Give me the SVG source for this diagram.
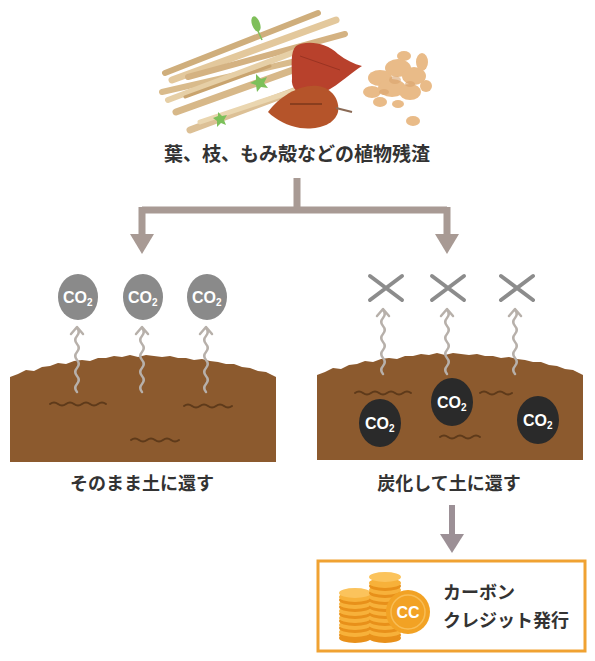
<svg xmlns="http://www.w3.org/2000/svg" width="595" height="661" viewBox="0 0 595 661">
  <style>
    .label { font-family: "Noto Sans CJK JP", "Noto Sans", sans-serif; font-weight: 700; fill: #333333; }
    .co2 { font-family: "Liberation Sans", Arial, sans-serif; font-weight: 700; fill: #ffffff; font-size: 16px; }
    .flow { fill: none; stroke: #a89a94; stroke-width: 7; }
    .wisp { fill: none; stroke: #b7b0aa; stroke-width: 2.5; stroke-linecap: round; stroke-linejoin: round; }
    .worm { fill: none; stroke: #5e3a1a; stroke-width: 2; stroke-linecap: round; }
    .cross { stroke: #8c8c8c; stroke-width: 4; stroke-linecap: round; }
    .stick { stroke-linecap: round; }
  </style>
  <defs>
    <!-- bumpy mound of soil, left edge at x=0 -->
    <path id="soil" fill="#8c5a2e" d="M0,105 L0,20 L8,17 L16,13 L24,14 L32,10 L40,9 L48,6 L56,7 L64,4 L72,3 L80,4 L88,1 L96,1 L104,-1 L112,0 L120,-2 L128,0 L136,-2 L144,-1 L152,0 L160,-1 L168,1 L176,1 L184,3 L192,2 L200,4 L208,5 L216,7 L224,7 L232,10 L240,11 L248,14 L256,15 L262,18 L266,20 L266,105 Z"/>
    <!-- rising gas wisp, tip at origin -->
    <path id="wisp" class="wisp" d="M-6,9 L0,2 L6,9 M0,3 q3.5,4 0,8 q-3.5,4 0,8 q3.5,4 0,8 q-3.5,4 0,8 q3.5,4 0,8 q-3.5,4 0,8 q3.5,4 0,8 q-3.5,4 0,8"/>
    <g id="co2text">
      <text class="co2" x="-15" y="6" text-anchor="start">CO<tspan font-size="10" dy="3">2</tspan></text>
    </g>
    <path id="cross" class="cross" d="M-16,-12 L16,12 M-16,12 L16,-12"/>
    <!-- one stacked coin -->
    <g id="coin">
      <ellipse cx="0" cy="3" rx="16" ry="5" fill="#e8901a"/>
      <ellipse cx="0" cy="0" rx="16" ry="5" fill="#f7b13a"/>
    </g>
  </defs>

  <rect width="595" height="661" fill="#ffffff"/>

  <!-- plant residue: twigs, leaves, husks -->
  <g id="residue">
    <g class="stick">
      <line x1="162" y1="92" x2="292" y2="62" stroke="#d9bb8c" stroke-width="6"/>
      <line x1="165" y1="73" x2="318" y2="13" stroke="#cfae7c" stroke-width="6"/>
      <line x1="172" y1="80" x2="336" y2="20" stroke="#e3c89c" stroke-width="7"/>
      <line x1="188" y1="77" x2="345" y2="34" stroke="#d4b282" stroke-width="6"/>
      <line x1="168" y1="100" x2="300" y2="50" stroke="#e6cfa6" stroke-width="6"/>
      <line x1="176" y1="112" x2="332" y2="56" stroke="#d7b889" stroke-width="7"/>
      <line x1="190" y1="130" x2="345" y2="72" stroke="#dcc096" stroke-width="7"/>
      <line x1="200" y1="122" x2="320" y2="82" stroke="#ead6b0" stroke-width="5"/>
      <line x1="185" y1="97" x2="270" y2="66" stroke="#c9a46f" stroke-width="3"/>
    </g>
    <ellipse cx="256" cy="24" rx="4" ry="8" fill="#7fbf5a" transform="rotate(-20 256 24)"/>
    <line x1="258" y1="31" x2="262" y2="40" stroke="#7fbf5a" stroke-width="1.5"/>
    <path d="M256,74 l5,5 l6,-2 l-3,6 l4,5 l-7,-1 l-4,5 l-1,-7 l-6,-2 l6,-3 Z" fill="#7cc05a"/>
    <path d="M218,112 l4,4 l5,-1 l-3,5 l2,5 l-5,-2 l-4,4 l0,-6 l-4,-3 l5,-2 Z" fill="#7cc05a"/>
    <!-- leaves -->
    <path d="M296,46 C306,40 326,42 338,54 C346,60 354,64 362,66 C352,72 340,84 325,92 C305,100 290,92 292,78 C292,66 290,52 296,46 Z" fill="#b8412c"/>
    <path d="M300,56 L340,70" stroke="#9a3322" stroke-width="1"/>
    <path d="M268,112 C280,96 300,84 318,86 C332,88 340,100 338,112 C334,126 316,130 300,128 C288,126 276,120 268,112 Z" fill="#b5542a"/>
    <path d="M290,104 L322,104" stroke="#6e2f17" stroke-width="1.2"/>
    <path d="M336,108 L352,112" stroke="#8a6a55" stroke-width="2"/>
    <!-- husks -->
    <g fill="#e9bb88">
      <ellipse cx="380" cy="78" rx="12" ry="8"/>
      <ellipse cx="398" cy="68" rx="13" ry="9"/>
      <ellipse cx="414" cy="76" rx="12" ry="9"/>
      <ellipse cx="392" cy="88" rx="14" ry="9"/>
      <ellipse cx="410" cy="92" rx="11" ry="8"/>
      <ellipse cx="372" cy="92" rx="9" ry="6"/>
      <ellipse cx="422" cy="62" rx="6" ry="9"/>
      <ellipse cx="404" cy="56" rx="7" ry="5"/>
      <ellipse cx="426" cy="86" rx="6" ry="6"/>
      <ellipse cx="380" cy="102" rx="7" ry="5"/>
      <ellipse cx="398" cy="104" rx="6" ry="4"/>
      <ellipse cx="413" cy="121" rx="7" ry="5"/>
    </g>
    <g fill="#dba56e" opacity="0.6">
      <ellipse cx="395" cy="80" rx="6" ry="4"/>
      <ellipse cx="410" cy="84" rx="5" ry="3"/>
      <ellipse cx="384" cy="92" rx="5" ry="3"/>
    </g>
    <text class="label" x="297" y="161" font-size="19" text-anchor="middle">葉、枝、もみ殻などの植物残渣</text>
  </g>

  <!-- connectors -->
  <g id="connectors">
    <path class="flow" d="M297,178 L297,210 M142,210 L447,210 M142,207 L142,238 M447,207 L447,238"/>
    <path d="M130,234 L154,234 L142,254 Z" fill="#a89a94"/>
    <path d="M435,234 L459,234 L447,254 Z" fill="#a89a94"/>
    <path d="M452,505 L452,538" fill="none" stroke="#9c9096" stroke-width="6"/>
    <path d="M440,534 L464,534 L452,553 Z" fill="#9c9096"/>
  </g>

  <!-- returned as is -->
  <g id="left-soil">
    <use href="#soil" x="10" y="357"/>
    <path class="worm" d="M50,404 q4,-3 8,0 t8,0 t8,0 t8,0 t8,0 t8,0 t8,0"/>
    <path class="worm" d="M184,406 q4,-3 8,0 t8,0 t8,0 t8,0 t8,0 t8,0"/>
    <path class="worm" d="M131,440 q4,-3 8,0 t8,0 t8,0 t8,0 t8,0 t8,0"/>
    <use href="#wisp" x="77" y="325"/>
    <use href="#wisp" x="142" y="325"/>
    <use href="#wisp" x="206" y="325"/>
    <ellipse cx="78" cy="297" rx="20" ry="23" fill="#8a8a8a"/>
    <ellipse cx="143" cy="297" rx="20" ry="23" fill="#8a8a8a"/>
    <ellipse cx="207" cy="297" rx="20" ry="23" fill="#8a8a8a"/>
    <use href="#co2text" x="78" y="297"/>
    <use href="#co2text" x="143" y="297"/>
    <use href="#co2text" x="207" y="297"/>
    <text class="label" x="142" y="490" font-size="18" text-anchor="middle">そのまま土に還す</text>
  </g>

  <!-- returned as biochar -->
  <g id="right-soil">
    <use href="#soil" x="317" y="355"/>
    <path class="worm" d="M355,393 q4,-3 8,0 t8,0 t8,0 t8,0 t8,0 t8,0 t8,0"/>
    <path class="worm" d="M480,393 q4,-3 8,0 t8,0 t8,0 t8,0"/>
    <path class="worm" d="M440,437 q4,-3 8,0 t8,0 t8,0 t8,0 t8,0"/>
    <use href="#wisp" x="383" y="307"/>
    <use href="#wisp" x="447" y="307"/>
    <use href="#wisp" x="515" y="307"/>
    <use href="#cross" x="386" y="288"/>
    <use href="#cross" x="448" y="288"/>
    <use href="#cross" x="517" y="288"/>
    <ellipse cx="380" cy="423" rx="21" ry="24" fill="#2a2a2a"/>
    <ellipse cx="452" cy="402" rx="21" ry="24" fill="#2a2a2a"/>
    <ellipse cx="538" cy="420" rx="21" ry="24" fill="#2a2a2a"/>
    <use href="#co2text" x="380" y="423"/>
    <use href="#co2text" x="452" y="402"/>
    <use href="#co2text" x="538" y="420"/>
    <text class="label" x="449" y="490" font-size="18" text-anchor="middle">炭化して土に還す</text>
  </g>

  <!-- carbon credit issuance -->
  <g id="credit">
    <rect x="318" y="561" width="267" height="90" fill="#ffffff" stroke="#f0a232" stroke-width="3"/>
    <g>
      <ellipse cx="355" cy="638" rx="16" ry="5" fill="#e8901a"/>
      <use href="#coin" x="355" y="632"/>
      <use href="#coin" x="355" y="625"/>
      <use href="#coin" x="355" y="618"/>
      <use href="#coin" x="355" y="611"/>
      <use href="#coin" x="355" y="604"/>
      <use href="#coin" x="355" y="597"/>
      <ellipse cx="355" cy="593" rx="16" ry="5" fill="#fbc35c"/>
    </g>
    <g>
      <ellipse cx="385" cy="638" rx="16" ry="5" fill="#e8901a"/>
      <use href="#coin" x="385" y="632"/>
      <use href="#coin" x="385" y="625"/>
      <use href="#coin" x="385" y="618"/>
      <use href="#coin" x="385" y="611"/>
      <use href="#coin" x="385" y="604"/>
      <use href="#coin" x="385" y="597"/>
      <use href="#coin" x="385" y="590"/>
      <use href="#coin" x="385" y="583"/>
      <ellipse cx="385" cy="577" rx="16" ry="5" fill="#fbc35c"/>
    </g>
    <circle cx="408" cy="612" r="22" fill="#f2a224"/>
    <circle cx="408" cy="612" r="17" fill="none" stroke="#f8bd55" stroke-width="1.5"/>
    <text x="408" y="618" text-anchor="middle" font-family="Liberation Sans, Arial, sans-serif" font-weight="700" font-size="16" fill="#ffffff">CC</text>
    <text class="label" x="443" y="599" font-size="18">カーボン</text>
    <text class="label" x="443" y="627" font-size="18">クレジット発行</text>
  </g>
</svg>
